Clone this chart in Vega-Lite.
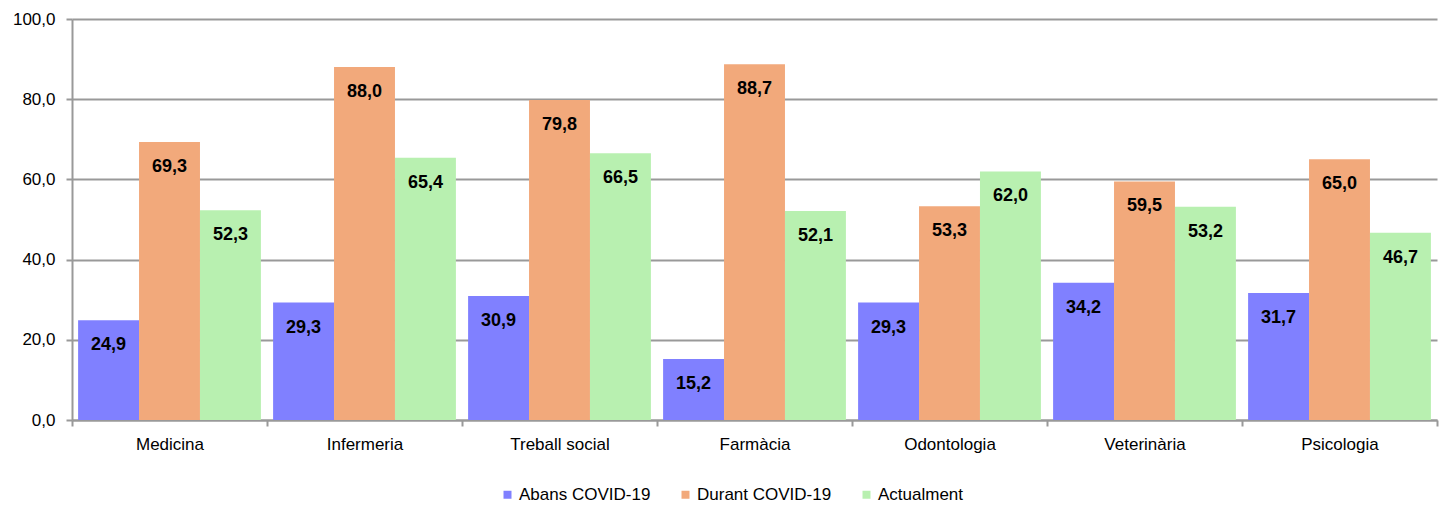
{
  "$schema": "https://vega.github.io/schema/vega-lite/v6.json",
  "width": 1365,
  "height": 401,
  "autosize": {"type": "none"},
  "padding": {"left": 72, "top": 19, "right": 13, "bottom": 88},
  "config": {
    "locale": {"number": {"decimal": ",", "thousands": ".", "grouping": [3], "currency": ["", " €"]}},
    "view": {"stroke": null},
    "font": "Liberation Sans, Arial, sans-serif"
  },
  "data": {
    "values": [
      {"estudi": "Medicina", "periode": "Abans COVID-19", "valor": 24.9},
      {"estudi": "Medicina", "periode": "Durant COVID-19", "valor": 69.3},
      {"estudi": "Medicina", "periode": "Actualment", "valor": 52.3},
      {"estudi": "Infermeria", "periode": "Abans COVID-19", "valor": 29.3},
      {"estudi": "Infermeria", "periode": "Durant COVID-19", "valor": 88.0},
      {"estudi": "Infermeria", "periode": "Actualment", "valor": 65.4},
      {"estudi": "Treball social", "periode": "Abans COVID-19", "valor": 30.9},
      {"estudi": "Treball social", "periode": "Durant COVID-19", "valor": 79.8},
      {"estudi": "Treball social", "periode": "Actualment", "valor": 66.5},
      {"estudi": "Farmàcia", "periode": "Abans COVID-19", "valor": 15.2},
      {"estudi": "Farmàcia", "periode": "Durant COVID-19", "valor": 88.7},
      {"estudi": "Farmàcia", "periode": "Actualment", "valor": 52.1},
      {"estudi": "Odontologia", "periode": "Abans COVID-19", "valor": 29.3},
      {"estudi": "Odontologia", "periode": "Durant COVID-19", "valor": 53.3},
      {"estudi": "Odontologia", "periode": "Actualment", "valor": 62.0},
      {"estudi": "Veterinària", "periode": "Abans COVID-19", "valor": 34.2},
      {"estudi": "Veterinària", "periode": "Durant COVID-19", "valor": 59.5},
      {"estudi": "Veterinària", "periode": "Actualment", "valor": 53.2},
      {"estudi": "Psicologia", "periode": "Abans COVID-19", "valor": 31.7},
      {"estudi": "Psicologia", "periode": "Durant COVID-19", "valor": 65.0},
      {"estudi": "Psicologia", "periode": "Actualment", "valor": 46.7}
    ]
  },
  "encoding": {
    "x": {
      "field": "estudi",
      "type": "nominal",
      "sort": ["Medicina", "Infermeria", "Treball social", "Farmàcia", "Odontologia", "Veterinària", "Psicologia"],
      "scale": {"paddingInner": 0, "paddingOuter": 0},
      "axis": {
        "title": null,
        "labelAngle": 0,
        "labelFontSize": 17,
        "labelColor": "#000000",
        "labelPadding": 10,
        "tickBand": "extent",
        "tickSize": 6,
        "tickWidth": 2,
        "tickColor": "#999999",
        "domainColor": "#999999",
        "domainWidth": 2
      }
    },
    "xOffset": {
      "field": "periode",
      "type": "nominal",
      "sort": ["Abans COVID-19", "Durant COVID-19", "Actualment"],
      "scale": {"paddingInner": 0, "paddingOuter": 0.1}
    },
    "y": {
      "field": "valor",
      "type": "quantitative",
      "scale": {"domain": [0, 100], "nice": false},
      "axis": {
        "title": null,
        "values": [0, 20, 40, 60, 80, 100],
        "format": ".1f",
        "labelFontSize": 17,
        "labelColor": "#000000",
        "labelPadding": 11,
        "tickSize": 6,
        "tickWidth": 2,
        "tickColor": "#999999",
        "domainColor": "#999999",
        "domainWidth": 2,
        "grid": true,
        "gridColor": "#999999",
        "gridWidth": 2
      }
    }
  },
  "layer": [
    {
      "mark": {"type": "bar"},
      "encoding": {
        "color": {
          "field": "periode",
          "type": "nominal",
          "sort": ["Abans COVID-19", "Durant COVID-19", "Actualment"],
          "scale": {
            "domain": ["Abans COVID-19", "Durant COVID-19", "Actualment"],
            "range": ["#8080FF", "#F2A97B", "#B8F0B0"]
          },
          "legend": {
            "title": null,
            "orient": "none",
            "direction": "horizontal",
            "legendX": 427,
            "legendY": 467,
            "symbolType": "square",
            "symbolSize": 64,
            "symbolStrokeWidth": 0,
            "labelFontSize": 17,
            "labelColor": "#000000",
            "labelOffset": 3,
            "columnPadding": 26,
            "labelLimit": 300
          }
        }
      }
    },
    {
      "mark": {"type": "text", "dy": 25, "fontWeight": "bold", "fontSize": 18, "color": "#000000", "baseline": "middle"},
      "encoding": {
        "text": {"field": "valor", "type": "quantitative", "format": ".1f"}
      }
    }
  ]
}
